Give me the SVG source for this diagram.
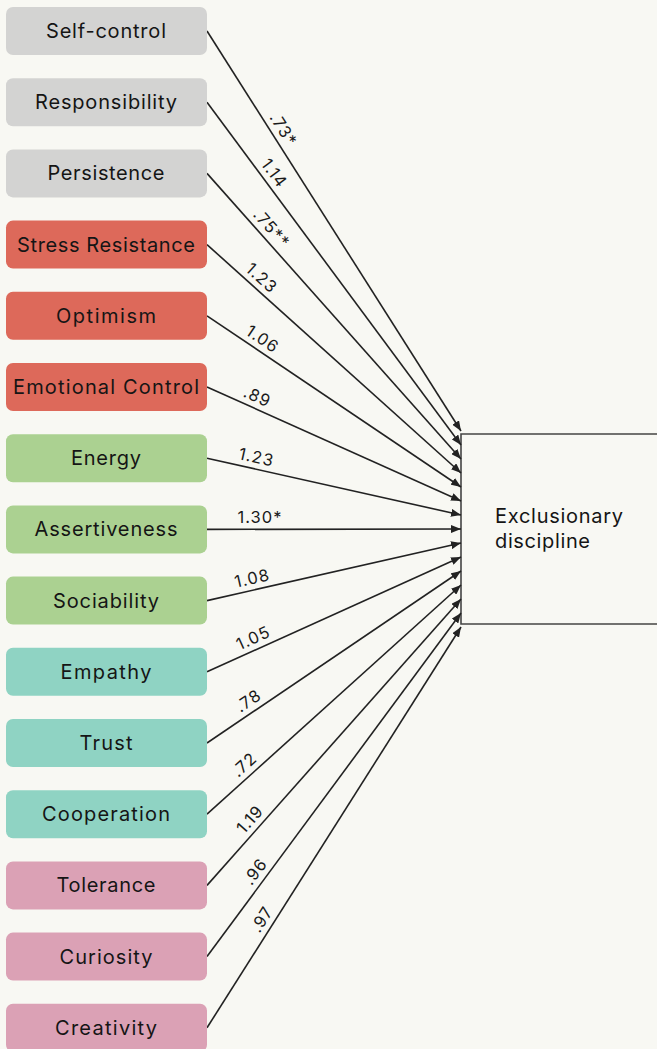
<svg xmlns="http://www.w3.org/2000/svg" width="657" height="1049" viewBox="0 0 657 1049">
<style>
.g{fill:#d3d3d2}.r{fill:#dd695a}.gr{fill:#abd191}.t{fill:#8fd3c3}.p{fill:#dba1b5}
.nt{font-family:Inter,"Liberation Sans",sans-serif;font-size:20px;fill:#151515;text-anchor:middle}
.c line{stroke:#222;stroke-width:1.6;marker-end:url(#ah)}
.lb{font-family:Inter,"Liberation Sans",sans-serif;font-size:16.5px;letter-spacing:1px;fill:#1a1a1a;text-anchor:middle}
.bt{font-family:Inter,"Liberation Sans",sans-serif;font-size:20px;fill:#151515}
</style>
<defs>
<marker id="ah" viewBox="0 0 10 8" refX="10" refY="4" markerWidth="10" markerHeight="8" markerUnits="userSpaceOnUse" orient="auto">
<path d="M0,0 L10,4 L0,8 Z" fill="#222"/>
</marker>
</defs>
<rect width="657" height="1049" fill="#f8f8f3"/>
<g id="target">
<path d="M660,434 H461 V624 H660" fill="#f8f8f3" stroke="#444" stroke-width="1.6"/>
<text class="bt" x="495" y="523" textLength="128" lengthAdjust="spacing">Exclusionary</text>
<text class="bt" x="495" y="548" textLength="95" lengthAdjust="spacing">discipline</text>
</g>
<g id="connectors" class="c">
<line x1="207" y1="31" x2="461" y2="431"/>
<line x1="207" y1="102.2" x2="461" y2="445"/>
<line x1="207" y1="173.4" x2="461" y2="459"/>
<line x1="207" y1="244.6" x2="461" y2="473"/>
<line x1="207" y1="315.8" x2="461" y2="487"/>
<line x1="207" y1="387" x2="461" y2="501"/>
<line x1="207" y1="458.2" x2="461" y2="515"/>
<line x1="207" y1="529.4" x2="461" y2="529"/>
<line x1="207" y1="600.6" x2="461" y2="543"/>
<line x1="207" y1="671.8" x2="461" y2="557"/>
<line x1="207" y1="743" x2="461" y2="571"/>
<line x1="207" y1="814.2" x2="461" y2="585"/>
<line x1="207" y1="885.4" x2="461" y2="599"/>
<line x1="207" y1="956.6" x2="461" y2="613"/>
<line x1="207" y1="1027.8" x2="461" y2="627"/>
</g>
<g id="labels">
<text class="lb" transform="translate(207 31) rotate(57.58)" x="124" y="-6">.73*</text>
<text class="lb" transform="translate(207 102.2) rotate(53.46)" x="97" y="-6">1.14</text>
<text class="lb" transform="translate(207 173.4) rotate(48.35)" x="84" y="-6">.75**</text>
<text class="lb" transform="translate(207 244.6) rotate(41.96)" x="63" y="-6">1.23</text>
<text class="lb" transform="translate(207 315.8) rotate(33.98)" x="59" y="-6">1.06</text>
<text class="lb" transform="translate(207 387) rotate(24.17)" x="50" y="-6">.89</text>
<text class="lb" transform="translate(207 458.2) rotate(12.61)" x="48" y="-6">1.23</text>
<text class="lb" transform="translate(207 529.4)" x="53" y="-6">1.30*</text>
<text class="lb" transform="translate(207 600.6) rotate(-12.78)" x="49" y="-6">1.08</text>
<text class="lb" transform="translate(207 671.8) rotate(-24.32)" x="56" y="-6">1.05</text>
<text class="lb" transform="translate(207 743) rotate(-34.1)" x="58" y="-6">.78</text>
<text class="lb" transform="translate(207 814.2) rotate(-42.06)" x="61" y="-6">.72</text>
<text class="lb" transform="translate(207 885.4) rotate(-48.43)" x="78" y="-6">1.19</text>
<text class="lb" transform="translate(207 956.6) rotate(-53.52)" x="97" y="-6">.96</text>
<text class="lb" transform="translate(207 1027.8) rotate(-57.63)" x="121" y="-6">.97</text>
</g>
<g id="n0"><rect class="g" x="6" y="7" width="201" height="48" rx="7"/><text class="nt" x="106" y="38" textLength="120" lengthAdjust="spacing">Self-control</text></g>
<g id="n1"><rect class="g" x="6" y="78.2" width="201" height="48" rx="7"/><text class="nt" x="106" y="109.2" textLength="142" lengthAdjust="spacing">Responsibility</text></g>
<g id="n2"><rect class="g" x="6" y="149.4" width="201" height="48" rx="7"/><text class="nt" x="106" y="180.4" textLength="117" lengthAdjust="spacing">Persistence</text></g>
<g id="n3"><rect class="r" x="6" y="220.6" width="201" height="48" rx="7"/><text class="nt" x="106" y="251.6" textLength="178" lengthAdjust="spacing">Stress Resistance</text></g>
<g id="n4"><rect class="r" x="6" y="291.8" width="201" height="48" rx="7"/><text class="nt" x="106" y="322.8" textLength="100" lengthAdjust="spacing">Optimism</text></g>
<g id="n5"><rect class="r" x="6" y="363" width="201" height="48" rx="7"/><text class="nt" x="106" y="394" textLength="186" lengthAdjust="spacing">Emotional Control</text></g>
<g id="n6"><rect class="gr" x="6" y="434.2" width="201" height="48" rx="7"/><text class="nt" x="106" y="465.2" textLength="70" lengthAdjust="spacing">Energy</text></g>
<g id="n7"><rect class="gr" x="6" y="505.4" width="201" height="48" rx="7"/><text class="nt" x="106" y="536.4" textLength="143" lengthAdjust="spacing">Assertiveness</text></g>
<g id="n8"><rect class="gr" x="6" y="576.6" width="201" height="48" rx="7"/><text class="nt" x="106" y="607.6" textLength="106" lengthAdjust="spacing">Sociability</text></g>
<g id="n9"><rect class="t" x="6" y="647.8" width="201" height="48" rx="7"/><text class="nt" x="106" y="678.8" textLength="91" lengthAdjust="spacing">Empathy</text></g>
<g id="n10"><rect class="t" x="6" y="719" width="201" height="48" rx="7"/><text class="nt" x="106" y="750" textLength="53" lengthAdjust="spacing">Trust</text></g>
<g id="n11"><rect class="t" x="6" y="790.2" width="201" height="48" rx="7"/><text class="nt" x="106" y="821.2" textLength="128" lengthAdjust="spacing">Cooperation</text></g>
<g id="n12"><rect class="p" x="6" y="861.4" width="201" height="48" rx="7"/><text class="nt" x="106" y="892.4" textLength="99" lengthAdjust="spacing">Tolerance</text></g>
<g id="n13"><rect class="p" x="6" y="932.6" width="201" height="48" rx="7"/><text class="nt" x="106" y="963.6" textLength="93" lengthAdjust="spacing">Curiosity</text></g>
<g id="n14"><rect class="p" x="6" y="1003.8" width="201" height="48" rx="7"/><text class="nt" x="106" y="1034.8" textLength="102" lengthAdjust="spacing">Creativity</text></g>
</svg>
